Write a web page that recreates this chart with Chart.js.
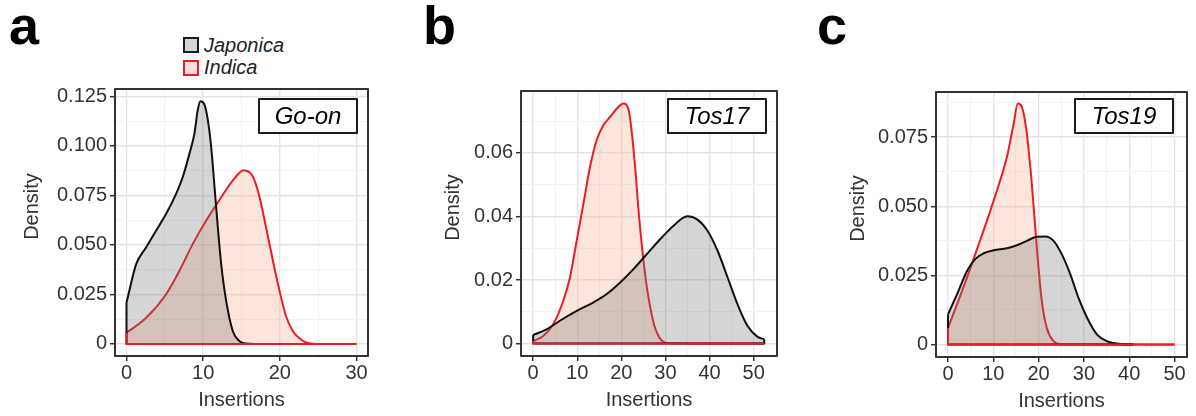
<!DOCTYPE html>
<html>
<head>
<meta charset="utf-8">
<script src="https://cdn.jsdelivr.net/npm/chart.js@4.4.0/dist/chart.umd.min.js"></script>
<style>
body { margin: 0; background: #fff; width: 1196px; height: 416px; position: relative; overflow: hidden; font-family: "Liberation Sans", Arial, sans-serif; }
canvas { position: absolute; top: 0; }
.tag { position: absolute; top: -2px; font-weight: bold; font-size: 54px; line-height: 54px; color: #000; }
.leg { position: absolute; left: 204px; font-style: italic; font-size: 20px; line-height: 20px; color: #222; }
.sw { position: absolute; left: 183px; width: 12px; height: 12px; border: 2px solid; }
</style>
</head>
<body>
<div class="tag" style="left:9px">a</div>
<div class="tag" style="left:423px">b</div>
<div class="tag" style="left:817px">c</div>

<div class="sw" style="top:37px;border-color:#1a1a1a;background:#d5d5d5"></div>
<div class="leg" style="top:35px">Japonica</div>
<div class="sw" style="top:60px;border-color:#ec1c24;background:#fbe0dc"></div>
<div class="leg" style="top:57px">Indica</div>

<canvas id="panel-a" width="392" height="416" style="left:0px"></canvas>
<canvas id="panel-b" width="400" height="416" style="left:400px"></canvas>
<canvas id="panel-c" width="396" height="416" style="left:800px"></canvas>

<script>
// Go-on
const goonJapX = [0, 1.26, 2.57, 3.87, 5.17, 6.48, 7.35, 8.22, 8.87, 9.3, 9.65, 10.17, 10.6, 11.04, 11.48, 11.91, 12.35, 13.0, 13.87, 14.74, 15.6, 16.5]
const goonJapY = [0.0208, 0.0403, 0.0488, 0.0573, 0.0657, 0.0759, 0.0844, 0.0962, 0.1064, 0.1182, 0.1225, 0.1208, 0.1132, 0.0996, 0.0793, 0.059, 0.0403, 0.0217, 0.0064, 0.0014, 0.0002, 0]
const goonIndX = [0, 2.57, 5.17, 6.9, 8.65, 10.4, 12.1, 13.9, 15.3, 16.5, 17.35, 18.2, 19.1, 19.96, 20.8, 21.7, 22.6, 23.4, 24.7, 30]
const goonIndY = [0.0056, 0.0132, 0.0251, 0.0369, 0.0505, 0.0623, 0.0725, 0.0827, 0.0877, 0.0844, 0.0742, 0.0589, 0.042, 0.0268, 0.0141, 0.0064, 0.0027, 0.0007, 0, 0]

// Tos17
const tos17JapX = [0, 3.04, 6.08, 9.88, 13.7, 16.7, 19.8, 22.8, 25.8, 28.9, 31.9, 34.95, 37.2, 39.5, 41.8, 44.1, 46.35, 48.6, 50.9, 52.4]
const tos17JapY = [0.0027, 0.0045, 0.0072, 0.0103, 0.013, 0.0156, 0.0193, 0.0235, 0.0282, 0.033, 0.0372, 0.0401, 0.0391, 0.0356, 0.0293, 0.0208, 0.0124, 0.0056, 0.0021, 0.0014]
const tos17IndX = [0, 2.28, 4.56, 6.84, 8.36, 9.88, 11.4, 12.9, 14.4, 15.96, 17.5, 19.0, 20.5, 21.66, 22.4, 23.2, 23.9, 24.7, 25.8, 27.4, 28.9, 30.4, 52.4]
const tos17IndY = [0.0008, 0.0024, 0.0061, 0.0135, 0.0208, 0.0324, 0.044, 0.0556, 0.064, 0.0688, 0.0714, 0.074, 0.0756, 0.0735, 0.0661, 0.0545, 0.0419, 0.0303, 0.0177, 0.0061, 0.0014, 0.0002, 0]

// Tos19
const tos19JapX = [0, 2.0, 4.2, 6.0, 7.87, 10.07, 13.0, 15.2, 17.4, 19.6, 21.5, 23.3, 25.1, 27.0, 28.8, 30.7, 32.9, 35.1, 38.0, 40.9]
const tos19JapY = [0.0109, 0.0182, 0.0266, 0.0309, 0.033, 0.0341, 0.0348, 0.0359, 0.0375, 0.039, 0.0391, 0.0375, 0.0327, 0.0254, 0.0169, 0.0097, 0.0036, 0.0012, 0.0002, 0]
const tos19IndX = [0, 1.99, 4.19, 6.4, 8.6, 10.8, 13.0, 14.5, 15.4, 16.3, 17.4, 18.5, 19.6, 20.7, 21.8, 23.3, 24.8, 50]
const tos19IndY = [0.006, 0.0145, 0.0242, 0.0345, 0.0448, 0.0557, 0.0678, 0.0799, 0.0871, 0.0859, 0.0762, 0.0581, 0.0351, 0.0157, 0.006, 0.0012, 0.0001, 0]

// ticks
const xMajor30 = [0, 10, 20, 30]
const xMinor30 = [5, 15, 25]
const xMajor50 = [0, 10, 20, 30, 40, 50]
const xMinor50 = [5, 15, 25, 35, 45]
const yMajorGoon = [0, 0.025, 0.05, 0.075, 0.1, 0.125]
const yLabelsGoon = ["0", "0.025", "0.050", "0.075", "0.100", "0.125"]
const yMinorGoon = [0.0125, 0.0375, 0.0625, 0.0875, 0.1125]
const yMajorTos17 = [0, 0.02, 0.04, 0.06]
const yLabelsTos17 = ["0", "0.02", "0.04", "0.06"]
const yMinorTos17 = [0.01, 0.03, 0.05, 0.07]
const yMajorTos19 = [0, 0.025, 0.05, 0.075]
const yLabelsTos19 = ["0", "0.025", "0.050", "0.075"]
const yMinorTos19 = [0.0125, 0.0375, 0.0625, 0.0875]

const FONT = '"Liberation Sans", Arial, sans-serif'
const TEXT = '#333333'

const pts = (xs, ys) => xs.map((x, i) => ({ x: x, y: ys[i] }))
const isMajor = (v, list) => list.some(m => Math.abs(m - v) < 1e-9)

// border, end edges of density polygons, label box and y title
const panelDeco = {
    id: 'panelDeco',
    afterDatasetsDraw(chart, args, opts) {
        const ctx = chart.ctx
        const a = chart.chartArea
        const yZero = chart.scales.y.getPixelForValue(0)
        ctx.save()
        chart.data.datasets.forEach((ds, i) => {
            const pts = chart.getDatasetMeta(i).data
            const first = pts[0], last = pts[pts.length - 1]
            ctx.strokeStyle = ds.borderColor
            ctx.lineWidth = 2
            ctx.lineJoin = 'round'
            ctx.beginPath()
            ctx.moveTo(first.x, first.y)
            ctx.lineTo(first.x, yZero)
            ctx.lineTo(last.x, yZero)
            ctx.lineTo(last.x, last.y)
            ctx.stroke()
        })
        ctx.strokeStyle = '#333'
        ctx.lineWidth = 2
        ctx.strokeRect(a.left, a.top, a.right - a.left, a.bottom - a.top)

        const bw = 98, bh = 34
        const bx = a.right - opts.gap - bw, by = 99
        ctx.fillStyle = '#fff'
        ctx.fillRect(bx, by, bw, bh)
        ctx.strokeStyle = '#1a1a1a'
        ctx.strokeRect(bx, by, bw, bh)
        ctx.fillStyle = '#000'
        ctx.font = 'italic 24px ' + FONT
        ctx.textAlign = 'center'
        ctx.textBaseline = 'middle'
        ctx.fillText(opts.label, bx + bw / 2, by + bh / 2 + 1)

        ctx.translate(opts.titleX, (a.top + a.bottom) / 2 - 16)
        ctx.rotate(-Math.PI / 2)
        ctx.fillStyle = TEXT
        ctx.font = '20px ' + FONT
        ctx.fillText('Density', 0, 0)
        ctx.restore()
    }
}

function axis(min, max, majors, minors, labels, fit) {
    return {
        type: 'linear',
        min: min,
        max: max,
        afterBuildTicks: s => {
            s.ticks = majors.concat(minors).sort((p, q) => p - q).map(v => ({ value: v }))
        },
        afterFit: fit,
        border: { display: false },
        grid: {
            color: c => c.tick && isMajor(c.tick.value, majors) ? '#e4e4e4' : '#f2f2f2',
            lineWidth: c => c.tick && isMajor(c.tick.value, majors) ? 1.4 : 1,
            tickColor: c => c.tick && isMajor(c.tick.value, majors) ? '#333' : 'rgba(0,0,0,0)',
            tickLength: 5,
            tickWidth: 1.5
        },
        ticks: {
            autoSkip: false,
            maxRotation: 0,
            padding: 3,
            color: TEXT,
            font: { family: FONT, size: 20 },
            callback: v => {
                const k = majors.findIndex(m => Math.abs(m - v) < 1e-9)
                return k < 0 ? '' : labels[k]
            }
        }
    }
}

function makePanel(id, cfg) {
    const xScale = axis(cfg.xMin, cfg.xMax, cfg.xMajor, cfg.xMinor, cfg.xMajor.map(String), s => { s.height = 56 })
    xScale.ticks.padding = 0
    xScale.title = { display: true, text: 'Insertions', color: TEXT, font: { family: FONT, size: 20 }, padding: { top: 0, bottom: 0 } }
    const yScale = axis(cfg.yMin, cfg.yMax, cfg.yMajor, cfg.yMinor, cfg.yLabels, s => { s.width = cfg.yWidth })

    return new Chart(document.getElementById(id), {
        type: 'line',
        data: {
            datasets: [{
                label: 'Japonica',
                data: cfg.jap,
                borderColor: '#111111',
                backgroundColor: 'rgba(116,116,116,0.30)',
                fill: 'origin'
            }, {
                label: 'Indica',
                data: cfg.ind,
                borderColor: '#ec1c24',
                backgroundColor: 'rgba(245,180,150,0.35)',
                fill: 'origin'
            }]
        },
        options: {
            responsive: false,
            animation: false,
            devicePixelRatio: 1,
            elements: {
                point: { radius: 0 },
                line: { borderWidth: 2, cubicInterpolationMode: 'monotone' }
            },
            layout: { padding: { left: 0, right: cfg.padRight, top: cfg.padTop, bottom: cfg.padBottom } },
            scales: { x: xScale, y: yScale },
            plugins: {
                legend: { display: false },
                tooltip: { enabled: false },
                panelDeco: { label: cfg.label, gap: cfg.gap, titleX: cfg.titleX }
            }
        },
        plugins: [panelDeco]
    })
}

makePanel('panel-a', {
    label: 'Go-on', gap: 11, titleX: 32,
    jap: pts(goonJapX, goonJapY), ind: pts(goonIndX, goonIndY),
    xMin: -1.5, xMax: 31.5, xMajor: xMajor30, xMinor: xMinor30,
    yMin: -0.0061, yMax: 0.1287, yMajor: yMajorGoon, yMinor: yMinorGoon, yLabels: yLabelsGoon,
    yWidth: 115, padRight: 24, padTop: 89, padBottom: 4
})

makePanel('panel-b', {
    label: 'Tos17', gap: 11, titleX: 53,
    jap: pts(tos17JapX, tos17JapY), ind: pts(tos17IndX, tos17IndY),
    xMin: -2.75, xMax: 55.3, xMajor: xMajor50, xMinor: xMinor50,
    yMin: -0.0039, yMax: 0.0795, yMajor: yMajorTos17, yMinor: yMinorTos17, yLabels: yLabelsTos17,
    yWidth: 121, padRight: 23, padTop: 91, padBottom: 4
})

makePanel('panel-c', {
    label: 'Tos19', gap: 14, titleX: 58,
    jap: pts(tos19JapX, tos19JapY), ind: pts(tos19IndX, tos19IndY),
    xMin: -2.65, xMax: 52.75, xMajor: xMajor50, xMinor: xMinor50,
    yMin: -0.0045, yMax: 0.0913, yMajor: yMajorTos19, yMinor: yMinorTos19, yLabels: yLabelsTos19,
    yWidth: 136, padRight: 9, padTop: 92, padBottom: 3
})
</script>
</body>
</html>
